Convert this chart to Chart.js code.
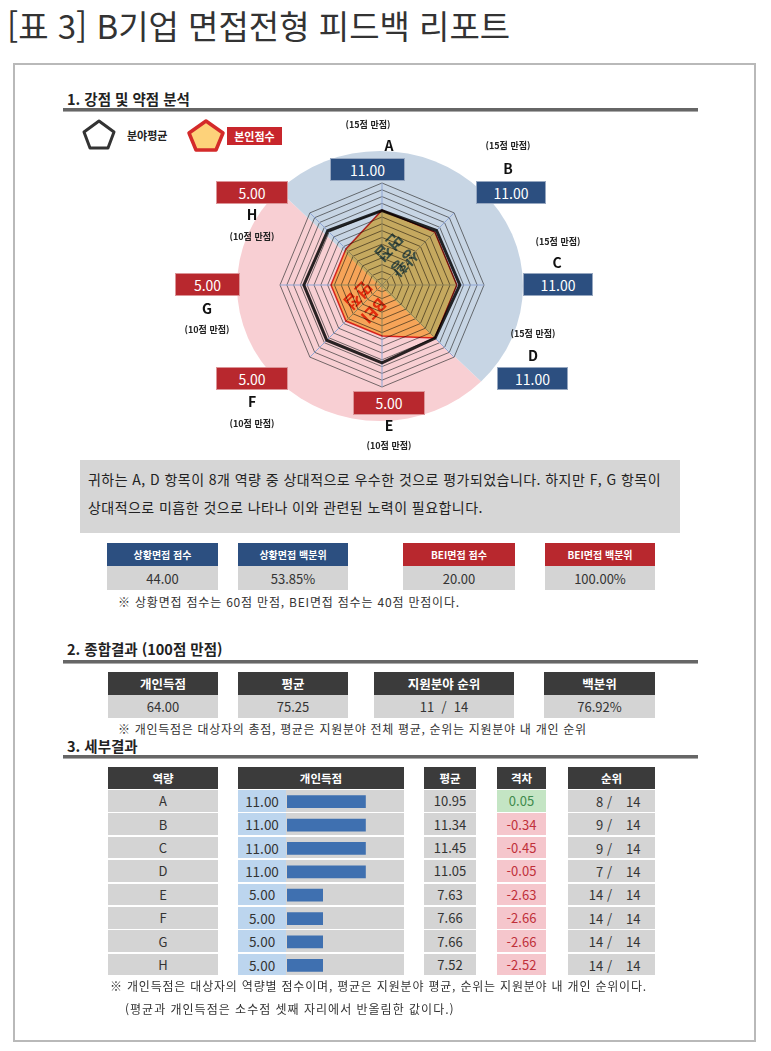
<!DOCTYPE html>
<html lang="ko">
<head>
<meta charset="utf-8">
<script src="https://cdn.jsdelivr.net/npm/chart.js@4.4.1/dist/chart.umd.min.js"></script>
<style>
  body { margin: 0; background: #fff; font-family: "Noto Sans CJK KR", "Noto Sans", sans-serif; color: #333; }
  #page { position: relative; width: 771px; height: 1051px; overflow: hidden; }
  .abs { position: absolute; }
  .cell { position: absolute; display: flex; align-items: center; justify-content: center; white-space: nowrap; }
  .ctr { position: absolute; transform: translate(-50%, -50%); white-space: nowrap; }
  .txt { position: absolute; white-space: nowrap; transform: translateY(-50%); }
  .rule { position: absolute; left: 63px; width: 635px; height: 3px; background: #666; border-bottom: 1px solid #aaa; }
  .head { font-weight: bold; font-size: 14.5px; color: #222; }
  .note { font-size: 12px; color: #333; letter-spacing: 0.8px; }
</style>
</head>
<body>
<div id="page">
  <div class="txt" style="left:7px; top:25px; font-size:33px; color:#333;">[표 3] B기업 면접전형 피드백 리포트</div>
  <div class="abs" style="left:13px; top:63px; width:739px; height:975px; border:2px solid #b9b9b9;"></div>

  <!-- 1 -->
  <div class="txt head" style="left:67px; top:98px;">1. 강점 및 약점 분석</div>
  <div class="rule" style="top:108px;"></div>

  <svg class="abs" style="left:81px; top:118px;" width="36" height="33">
    <polygon points="18,3 33,14 27,30 9,30 3,14" fill="#fff" stroke="#333" stroke-width="3" stroke-linejoin="round"/>
  </svg>
  <div class="txt" style="left:127px; top:135px; font-size:11px; font-weight:bold; color:#222;">분야평균</div>
  <svg class="abs" style="left:186px; top:118px;" width="40" height="35">
    <polygon points="20,3 37,15 30,32 10,32 3,15" fill="#fdd27a" stroke="#d42a2a" stroke-width="3.5" stroke-linejoin="round"/>
  </svg>
  <div class="cell" style="left:227px; top:127px; width:55px; height:18px; background:#c8262c; color:#fff; font-size:11px; font-weight:bold;">본인점수</div>

  <canvas id="radarChart" class="abs" style="left:160px; top:115px;" width="450" height="340"></canvas>
  <div id="radarLabels"></div>

  <div class="abs" style="left:80px; top:460px; width:600px; height:73px; background:#d6d6d6;"></div>
  <div class="txt" style="left:88px; top:479px; font-size:14px; letter-spacing:0.45px; color:#222;">귀하는 A, D 항목이 8개 역량 중 상대적으로 우수한 것으로 평가되었습니다. 하지만 F, G 항목이</div>
  <div class="txt" style="left:88px; top:507px; font-size:14px; letter-spacing:0.45px; color:#222;">상대적으로 미흡한 것으로 나타나 이와 관련된 노력이 필요합니다.</div>

  <div id="interviewBoxes"></div>
  <div class="txt note" style="left:118px; top:601px;">※ 상황면접 점수는 60점 만점, BEI면접 점수는 40점 만점이다.</div>

  <!-- 2 -->
  <div class="txt head" style="left:67px; top:648px;">2. 종합결과 (100점 만점)</div>
  <div class="rule" style="top:660px;"></div>
  <div id="totalBoxes"></div>
  <div class="txt note" style="left:118px; top:728px; letter-spacing:0.7px;">※ 개인득점은 대상자의 총점, 평균은 지원분야 전체 평균, 순위는 지원분야 내 개인 순위</div>

  <!-- 3 -->
  <div class="txt head" style="left:67px; top:745px;">3. 세부결과</div>
  <div class="rule" style="top:755px;"></div>
  <div id="detailTable"></div>
  <canvas id="scoreBars" class="abs" style="left:287px; top:790px;" width="107" height="187"></canvas>
  <div class="txt note" style="left:110px; top:985px;">※ 개인득점은 대상자의 역량별 점수이며, 평균은 지원분야 평균, 순위는 지원분야 내 개인 순위이다.</div>
  <div class="txt note" style="left:125px; top:1008px; letter-spacing:1px;">(평균과 개인득점은 소수점 셋째 자리에서 반올림한 값이다.)</div>
</div>

<script>
// Data
const categories = ['A', 'B', 'C', 'D', 'E', 'F', 'G', 'H'];
const maxScores = [15, 15, 15, 15, 10, 10, 10, 10];
const myScores = [11, 11, 11, 11, 5, 5, 5, 5];
const avgScores = [10.95, 11.34, 11.45, 11.05, 7.63, 7.66, 7.66, 7.52];
const gaps = [0.05, -0.34, -0.45, -0.05, -2.63, -2.66, -2.66, -2.52];
const ranks = [8, 9, 9, 7, 14, 14, 14, 14];
const rankTotal = 14;

const interviewLabels = ['상황면접 점수', '상황면접 백분위', 'BEI면접 점수', 'BEI면접 백분위'];
const interviewValues = ['44.00', '53.85%', '20.00', '100.00%'];
const totalLabels = ['개인득점', '평균', '지원분야 순위', '백분위'];
const totalValues = ['64.00', '75.25', '11  /  14', '76.92%'];

// radar scale runs 0-15, 10-point items are stretched to it
const radarMax = 15;
const toRadar = (v, i) => v / maxScores[i] * radarMax;

// Layout (page px)
const radarLabelPos = [
    { box: [330, 158, 75, 23], letter: [389, 145], note: [368, 124] },
    { box: [476, 181, 70, 23], letter: [508, 168], note: [508, 145] },
    { box: [523, 273, 70, 23], letter: [557, 262], note: [558, 241] },
    { box: [497, 367, 71, 23], letter: [533, 355], note: [533, 333] },
    { box: [353, 391, 72, 24], letter: [389, 425], note: [389, 445] },
    { box: [216, 367, 72, 23], letter: [252, 401], note: [252, 423] },
    { box: [175, 273, 65, 23], letter: [207, 308], note: [207, 329] },
    { box: [216, 181, 72, 23], letter: [252, 214], note: [252, 236] }
];
const BLUE = '#2c4f80', RED = '#b8282e', DARK = '#3b3b3b', GRAY = '#d4d4d4';

function cell(x, y, w, h, bg, color, text, size, bold) {
    return `<div class="cell" style="left:${x}px;top:${y}px;width:${w}px;height:${h}px;background:${bg};color:${color};font-size:${size}px;${bold ? 'font-weight:bold;' : ''}">${text}</div>`;
}

// Radar labels
let html = '';
radarLabelPos.forEach((p, i) => {
    const bg = maxScores[i] === 15 ? BLUE : RED;
    html += `<div class="cell" style="left:${p.box[0]}px;top:${p.box[1]}px;width:${p.box[2]}px;height:${p.box[3]}px;background:${bg};color:#fff;font-size:14px;box-shadow:0 0 0 1px rgba(255,255,255,0.5) inset;">${myScores[i].toFixed(2)}</div>`;
    html += `<div class="ctr" style="left:${p.letter[0]}px;top:${p.letter[1]}px;font-size:14px;font-weight:bold;color:#111;">${categories[i]}</div>`;
    html += `<div class="ctr" style="left:${p.note[0]}px;top:${p.note[1]}px;font-size:9px;font-weight:bold;color:#222;">(${maxScores[i]}점 만점)</div>`;
});
document.getElementById('radarLabels').innerHTML = html;

// Interview score boxes
const ivX = [107, 238, 403, 545], ivW = [111, 110, 112, 110];
html = '';
interviewLabels.forEach((lab, i) => {
    const bg = i < 2 ? BLUE : RED;
    html += cell(ivX[i], 543, ivW[i], 23, bg, '#fff', lab, 10, true);
    html += cell(ivX[i], 566, ivW[i], 24, GRAY, '#333', interviewValues[i], 13, false);
});
document.getElementById('interviewBoxes').innerHTML = html;

// Total boxes
const tX = [108, 238, 374, 544], tW = [110, 110, 140, 111];
html = '';
totalLabels.forEach((lab, i) => {
    html += cell(tX[i], 672, tW[i], 23, DARK, '#fff', lab, 12.5, true);
    html += cell(tX[i], 695, tW[i], 23, GRAY, '#333', totalValues[i].replace(/ /g, '&nbsp;'), 13, false);
});
document.getElementById('totalBoxes').innerHTML = html;

// Detail table
const rowTop = 790, rowPitch = 23.4, rowH = 21.6;
html = '';
html += cell(108, 767, 110, 22, DARK, '#fff', '역량', 11.5, true);
html += cell(238, 767, 166, 22, DARK, '#fff', '개인득점', 11.5, true);
html += cell(424, 767, 52, 22, DARK, '#fff', '평균', 11.5, true);
html += cell(497, 767, 49, 22, DARK, '#fff', '격차', 11.5, true);
html += cell(568, 767, 87, 22, DARK, '#fff', '순위', 11.5, true);
categories.forEach((c, i) => {
    const y = rowTop + i * rowPitch;
    const g = gaps[i];
    html += cell(108, y, 110, rowH, GRAY, '#333', c, 13, false);
    html += cell(238, y, 48, rowH, '#bcd5ee', '#333', myScores[i].toFixed(2), 13.5, false);
    html += cell(286, y, 118, rowH, GRAY, '#333', '', 12, false);
    html += cell(424, y, 52, rowH, GRAY, '#333', avgScores[i].toFixed(2), 13, false);
    html += cell(497, y, 49, rowH, g >= 0 ? '#c4e5c4' : '#f5c6cc', g >= 0 ? '#3f8a4c' : '#c0303a', g.toFixed(2), 13, false);
    html += cell(568, y, 87, rowH, GRAY, '#333', '', 13, false);
    html += `<div class="txt" style="left:560px;width:52px;text-align:right;top:${y + rowH / 2}px;font-size:13px;color:#333;">${ranks[i]} /</div>`;
    html += `<div class="txt" style="left:626px;top:${y + rowH / 2}px;font-size:13px;color:#333;">${rankTotal}</div>`;
});
document.getElementById('detailTable').innerHTML = html;

// Radar background: blue upper-right half, pink lower-left half
const radarBackground = {
    id: 'radarBackground',
    beforeDraw(chart) {
        const { ctx } = chart;
        const r = chart.scales.r;
        const cx = r.xCenter - 2, cy = r.yCenter + 1, rx = 143, ry = 135;
        ctx.save();
        ctx.fillStyle = '#f8cfd3';
        ctx.beginPath();
        ctx.ellipse(cx, cy, rx, ry, 0, Math.PI / 4, Math.PI * 5 / 4);
        ctx.closePath();
        ctx.fill();
        ctx.fillStyle = '#c7d5e4';
        ctx.beginPath();
        ctx.ellipse(cx, cy, rx, ry, 0, -Math.PI * 3 / 4, Math.PI / 4);
        ctx.closePath();
        ctx.fill();
        ctx.restore();
    }
};

// datasets are multiplied over the background like the print
const multiplyFill = {
    id: 'multiplyFill',
    beforeDatasetsDraw(chart) {
        chart.ctx.save();
        chart.ctx.globalCompositeOperation = 'multiply';
    },
    afterDatasetsDraw(chart) {
        const { ctx } = chart;
        const r = chart.scales.r;
        const draw = (lines, dx, dy, color) => {
            ctx.save();
            ctx.translate(r.xCenter + dx, r.yCenter + dy);
            ctx.rotate(Math.PI * 3 / 4);
            ctx.fillStyle = color;
            ctx.font = 'bold 17px "Noto Sans CJK KR"';
            ctx.textAlign = 'center';
            ctx.textBaseline = 'middle';
            lines.forEach((t, k) => ctx.fillText(t, 0, (k - 0.5) * 22));
            ctx.restore();
        };
        draw(['상황', '면접'], 15, -30, 'rgb(80,120,180)');
        draw(['BEI', '면접'], -16, 18, 'rgb(235,70,40)');
        ctx.restore();
    }
};

new Chart(document.getElementById('radarChart'), {
    type: 'radar',
    data: {
        labels: categories,
        datasets: [
            {
                label: '분야평균',
                data: avgScores.map(toRadar),
                borderColor: '#2a2a2a',
                borderWidth: 3,
                backgroundColor: 'transparent',
                fill: false,
                pointRadius: 0
            },
            {
                label: '본인점수',
                data: myScores.map(toRadar),
                borderColor: '#e03030',
                borderWidth: 1.5,
                backgroundColor: '#fdca6a',
                fill: true,
                pointRadius: 0
            }
        ]
    },
    options: {
        responsive: false,
        animation: false,
        layout: { padding: { left: 120, right: 126, top: 68, bottom: 68 } },
        elements: { line: { tension: 0 } },
        plugins: { legend: { display: false }, tooltip: { enabled: false } },
        scales: {
            r: {
                min: 0,
                max: radarMax,
                ticks: { display: false, stepSize: 1 },
                grid: { color: 'rgba(50,50,50,0.85)', lineWidth: 0.8 },
                angleLines: { color: '#8fa6d6', lineWidth: 1 },
                pointLabels: { display: false }
            }
        }
    },
    plugins: [radarBackground, multiplyFill]
});

new Chart(document.getElementById('scoreBars'), {
    type: 'bar',
    data: {
        labels: categories,
        datasets: [{ data: myScores, backgroundColor: '#3f70b0', barThickness: 12 }]
    },
    options: {
        indexAxis: 'y',
        responsive: false,
        animation: false,
        plugins: { legend: { display: false }, tooltip: { enabled: false } },
        scales: {
            x: { display: false, min: 0, max: 15 },
            y: { display: false }
        }
    }
});
</script>
</body>
</html>
